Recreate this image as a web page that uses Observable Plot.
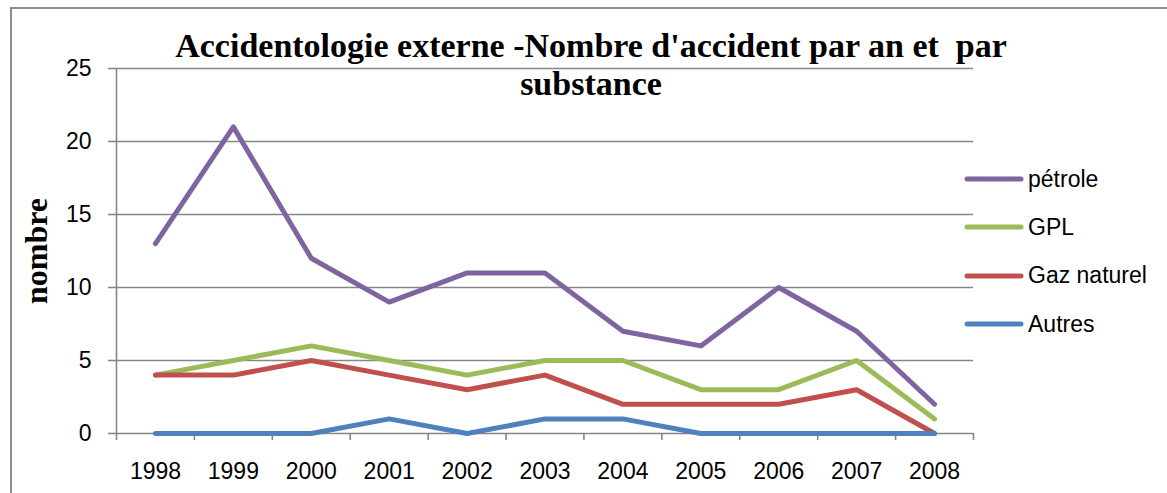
<!DOCTYPE html>
<html>
<head>
<meta charset="utf-8">
<script src="https://cdn.jsdelivr.net/npm/d3@7"></script>
<script src="https://cdn.jsdelivr.net/npm/@observablehq/plot@0.6"></script>
<style>
  body { margin: 0; background: #fff; }
  #wrap { position: relative; width: 1167px; height: 493px; overflow: hidden; background: #fff; }
  #frame { position: absolute; left: 10px; top: 7px; width: 1200px; height: 600px;
           border-top: 2px solid #8c8c8c; border-left: 2px solid #8c8c8c; box-sizing: border-box; }
  #title { position: absolute; left: 591px; top: 27px; transform: translateX(-50%);
           font-family: "Liberation Serif", serif; font-weight: bold; font-size: 34px;
           line-height: 38px; text-align: center; white-space: pre; color: #000; }
  #legend { position: absolute; left: 964px; top: 155px; font-family: "Liberation Sans", sans-serif;
            font-size: 23px; color: #000; }
  .item { height: 48.3px; display: flex; align-items: center; }
  .item svg { margin-right: 4px; }
  #chart { position: absolute; left: 0; top: 0; }
</style>
</head>
<body>
<div id="wrap">
  <div id="frame"></div>
  <div id="chart"></div>
  <div id="title"></div>
  <div id="legend"></div>
</div>
<script>
const titleLines = ["Accidentologie externe -Nombre d'accident par an et  par", "substance"];
const yLabel = "nombre";
const years = [1998, 1999, 2000, 2001, 2002, 2003, 2004, 2005, 2006, 2007, 2008];
const seriesNames = ["pétrole", "GPL", "Gaz naturel", "Autres"];
const seriesColors = ["#8064A2", "#9BBB59", "#C0504D", "#4F81BD"];
const petrole = [13, 21, 12, 9, 11, 11, 7, 6, 10, 7, 2];
const gpl = [4, 5, 6, 5, 4, 5, 5, 3, 3, 5, 1];
const gazNaturel = [4, 4, 5, 4, 3, 4, 2, 2, 2, 3, 0];
const autres = [0, 0, 0, 1, 0, 1, 1, 0, 0, 0, 0];
const yTicks = [0, 5, 10, 15, 20, 25];

const seriesValues = [petrole, gpl, gazNaturel, autres];
const data = [];
seriesNames.forEach((name, i) => {
  years.forEach((yr, j) => data.push({series: name, year: yr, value: seriesValues[i][j]}));
});
const boundaries = d3.range(years[0] - 0.5, years[years.length - 1] + 1, 1);

const gray = "#868686";
const plot = Plot.plot({
  width: 1167,
  height: 493,
  marginLeft: 116,
  marginRight: 194,
  marginTop: 68,
  marginBottom: 60,
  style: {fontFamily: "Liberation Sans, sans-serif", fontSize: "23px", color: "#000", background: "transparent"},
  x: {type: "linear", domain: [years[0] - 0.5, years[years.length - 1] + 0.5]},
  y: {domain: [0, 25]},
  color: {domain: seriesNames, range: seriesColors},
  marks: [
    Plot.ruleY(yTicks.filter(d => d > 0), {stroke: gray, strokeWidth: 1.6}),
    Plot.ruleY([0], {stroke: gray, strokeWidth: 1.6}),
    Plot.ruleX([boundaries[0]], {stroke: gray, strokeWidth: 1.6}),
    Plot.axisY({ticks: yTicks, tickSize: 8, tickPadding: 17, stroke: gray, strokeWidth: 1.6, label: null, fill: "#000"}),
    Plot.axisX({ticks: boundaries, tickSize: 7, tickFormat: () => "", stroke: gray, strokeWidth: 1.6, label: null}),
    Plot.axisX({ticks: years, tickSize: 0, tickPadding: 29, tickFormat: d => String(d), label: null, fill: "#000"}),
    Plot.line(data, {x: "year", y: "value", z: "series", stroke: "series", strokeWidth: 5,
      strokeLinejoin: "round", strokeLinecap: "round"}),
    Plot.text([yLabel], {frameAnchor: "left", dx: -80, rotate: -90, textAnchor: "middle",
      fontFamily: "Liberation Serif, serif", fontWeight: "bold", fontSize: 32, fill: "#000"})
  ]
});
document.getElementById("chart").appendChild(plot);

document.getElementById("title").textContent = titleLines.join("\n");

const legend = document.getElementById("legend");
seriesNames.forEach((name, i) => {
  const item = document.createElement("div");
  item.className = "item";
  item.innerHTML = `<svg width="60" height="10"><line x1="3" y1="5" x2="57" y2="5" stroke="${seriesColors[i]}" stroke-width="5" stroke-linecap="round"/></svg><span></span>`;
  item.querySelector("span").textContent = name;
  legend.appendChild(item);
});
</script>
</body>
</html>
